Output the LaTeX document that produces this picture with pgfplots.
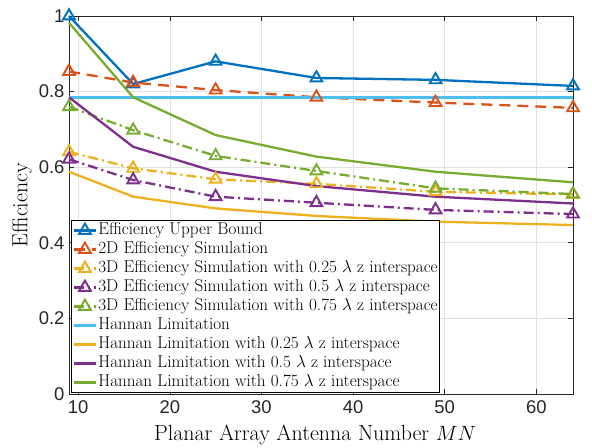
\documentclass[border=0pt]{standalone}
\usepackage{fontspec}
\usepackage{pgfplots}
\pgfplotsset{compat=1.18}
\newfontfamily\ticksf{Liberation Sans}
\definecolor{mblue}{RGB}{0,114,189}
\definecolor{morange}{RGB}{217,83,25}
\definecolor{myellow}{RGB}{237,177,32}
\definecolor{mpurple}{RGB}{126,47,142}
\definecolor{mgreen}{RGB}{119,172,48}
\definecolor{mlblue}{RGB}{77,190,238}
\definecolor{axgray}{RGB}{38,38,38}
\definecolor{gridgray}{RGB}{225,225,225}
\begin{document}
\begin{tikzpicture}
\begin{axis}[
  scale only axis,
  width=504bp, height=378bp,
  xmin=9, xmax=64, ymin=0, ymax=1,
  xtick={10,20,30,40,50,60},
  ytick={0,0.2,0.4,0.6,0.8,1},
  yticklabel style={/pgf/number format/fixed, xshift=-1bp},
  xticklabel style={yshift=-3.5bp},
  /pgf/number format/assume math mode=true,
  ticklabel style={font=\ticksf\fontsize{18.5}{20}\selectfont, text=axgray},
  tick align=inside,
  tick pos=both,
  major tick length=5bp,
  axis line style={axgray, line width=0.6bp},
  every tick/.style={axgray, line width=0.6bp},
  grid=major,
  major grid style={gridgray, line width=0.6bp},
  xlabel={Planar Array Antenna Number $MN$},
  ylabel={Efficiency},
  label style={font=\fontsize{22}{24}\selectfont},
  xlabel style={at={(rel axis cs:0.5,0)}, anchor=base, yshift=-46bp, xshift=-6bp},
  ylabel style={at={(rel axis cs:0,0.5)}, anchor=center, yshift=47bp},
  clip=false,
  every axis plot/.append style={line width=2.3bp},
  legend cell align=left,
  legend style={at={(rel axis cs:0,0)}, anchor=south west, xshift=2bp, yshift=1bp,
    font=\fontsize{17.2}{19}\selectfont, draw=black, line width=0.6bp,
    nodes={text height=12.5bp, text depth=4.5bp, inner sep=0.8bp},
    row sep=0.4bp, inner sep=1bp},
  legend image code/.code={\draw[mark repeat=2,mark phase=2] plot coordinates {(0cm,0cm)(0.4cm,0cm)(0.8cm,0cm)};},
  mark size=6.8bp,
]
\addplot[mblue, mark=triangle, mark options={solid, line width=1.9bp}] coordinates {
(9,1.0) (16,0.820) (25,0.880) (36,0.836) (49,0.831) (64,0.815)};
\addlegendentry{Efficiency Upper Bound}
\addplot[morange, dash pattern=on 11bp off 7bp, mark=triangle, mark options={solid, line width=1.9bp}] coordinates {
(9,0.853) (16,0.824) (25,0.804) (36,0.785) (49,0.771) (64,0.757)};
\addlegendentry{2D Efficiency Simulation}
\addplot[myellow, dash pattern=on 10bp off 4bp on 2bp off 4bp, mark=triangle, mark options={solid, line width=1.9bp}] coordinates {
(9,0.641) (16,0.597) (25,0.568) (36,0.556) (49,0.535) (64,0.528)};
\addlegendentry{3D Efficiency Simulation with 0.25 $\lambda$ z interspace}
\addplot[mpurple, dash pattern=on 10bp off 4bp on 2bp off 4bp, mark=triangle, mark options={solid, line width=1.9bp}] coordinates {
(9,0.621) (16,0.566) (25,0.522) (36,0.506) (49,0.487) (64,0.476)};
\addlegendentry{3D Efficiency Simulation with 0.5 $\lambda$ z interspace}
\addplot[mgreen, dash pattern=on 10bp off 4bp on 2bp off 4bp, mark=triangle, mark options={solid, line width=1.9bp}] coordinates {
(9,0.760) (16,0.698) (25,0.630) (36,0.590) (49,0.544) (64,0.529)};
\addlegendentry{3D Efficiency Simulation with 0.75 $\lambda$ z interspace}
\addplot[mlblue, no marks, line width=2.6bp] coordinates {
(9,0.785) (16,0.785) (25,0.785) (36,0.785) (49,0.785) (64,0.785)};
\addlegendentry{Hannan Limitation}
\addplot[myellow, no marks] coordinates {
(9,0.588) (16,0.522) (25,0.491) (36,0.471) (49,0.456) (64,0.447)};
\addlegendentry{Hannan Limitation with 0.25 $\lambda$ z interspace}
\addplot[mpurple, no marks] coordinates {
(9,0.785) (16,0.654) (25,0.588) (36,0.550) (49,0.522) (64,0.504)};
\addlegendentry{Hannan Limitation with 0.5 $\lambda$ z interspace}
\addplot[mgreen, no marks] coordinates {
(9,0.982) (16,0.785) (25,0.685) (36,0.628) (49,0.588) (64,0.560)};
\addlegendentry{Hannan Limitation with 0.75 $\lambda$ z interspace}
\end{axis}
\path (current axis.south west) ++(-69bp,-52bp) (current axis.north east) ++(19bp,16bp);
\end{tikzpicture}
\end{document}
